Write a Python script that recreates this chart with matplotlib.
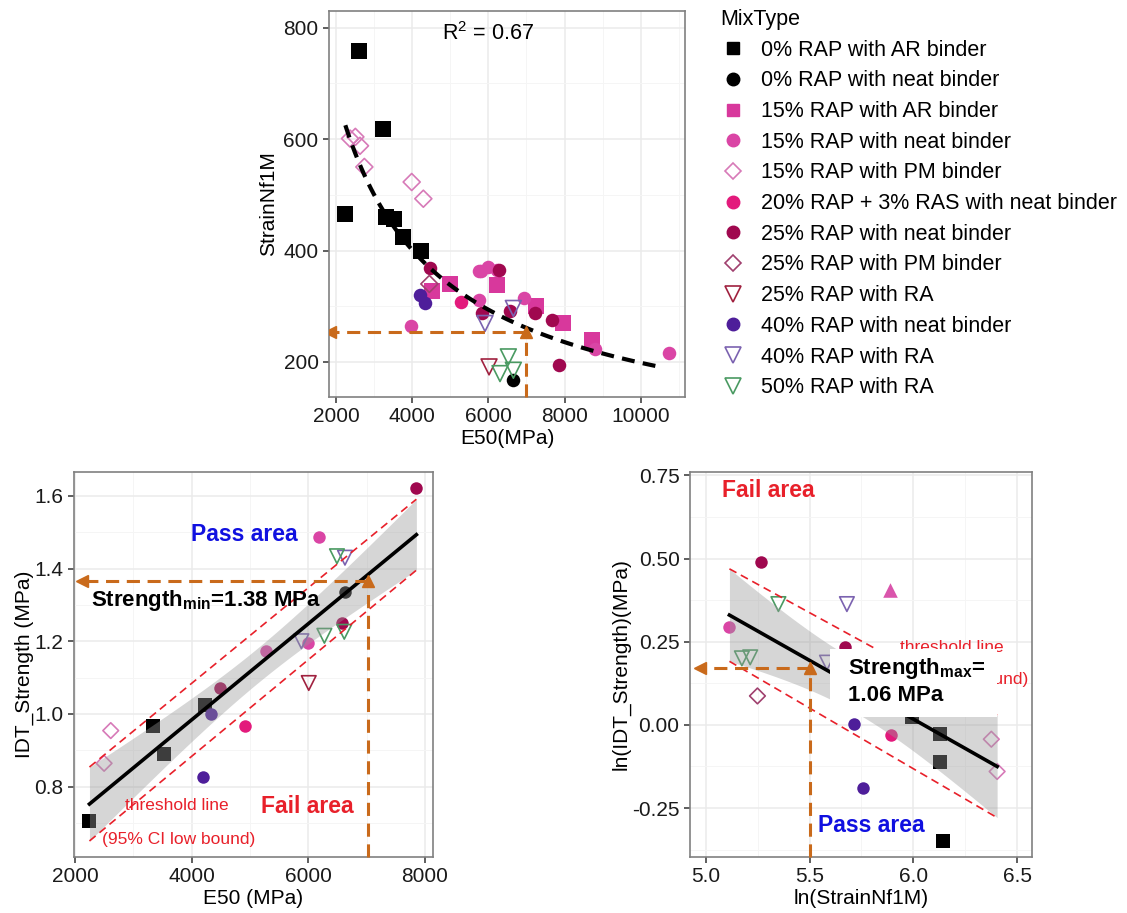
import numpy as np
import matplotlib
matplotlib.use("Agg")
import matplotlib.pyplot as plt
from matplotlib.lines import Line2D
from matplotlib.patches import Rectangle
from matplotlib.ticker import AutoMinorLocator, FormatStrFormatter

plt.rcParams['font.family'] = ['Liberation Sans', 'DejaVu Sans']
plt.rcParams['mathtext.fontset'] = 'custom'
plt.rcParams['mathtext.rm'] = 'Liberation Sans'
plt.rcParams['mathtext.bf'] = 'Liberation Sans:bold'
plt.rcParams['mathtext.it'] = 'Liberation Sans:italic'

# ---- mix types (legend order) ----
mix_types = ["0% RAP with AR binder", "0% RAP with neat binder", "15% RAP with AR binder",
             "15% RAP with neat binder", "15% RAP with PM binder", "20% RAP + 3% RAS with neat binder",
             "25% RAP with neat binder", "25% RAP with PM binder", "25% RAP with RA",
             "40% RAP with neat binder", "40% RAP with RA", "50% RAP with RA"]

# ---- top panel: E50 vs StrainNf1M ----
top_mix = [0, 0, 0, 0, 0, 0, 0,
           1,
           2, 2, 2, 2, 2, 2,
           3, 3, 3, 3, 3, 3, 3, 3, 3,
           4, 4, 4, 4, 4, 4,
           5,
           6, 6, 6, 6, 6, 6, 6,
           7, 8, 9, 9, 10, 10, 11, 11, 11]
top_e50 = [2613, 3225, 2245, 3313, 3532, 3768, 4223,
           6656,
           4512, 5000, 6219, 7243, 7952, 8731,
           3960, 5764, 6000, 6219, 5764, 6937, 8801, 10753, 5800,
           2368, 2508, 2630, 2744, 3987, 4293,
           5282,
           4468, 6289, 5842, 6569, 7226, 7663, 7864,
           4451, 6018, 4206, 4337, 5912, 6656, 6525, 6306, 6656]
top_strain = [759, 618, 465, 460, 457, 425, 400,
              168,
              327, 340, 338, 300, 270, 239,
              265, 363, 371, 365, 311, 314, 224, 216, 363,
              601, 604, 588, 550, 523, 493,
              308,
              368, 365, 288, 292, 287, 275, 195,
              340, 191, 320, 305, 269, 296, 209, 179, 185]
trend_end = 10500
e50_limit = 7000
strain_limit = 254

# ---- bottom left: E50 vs IDT strength ----
bl_mix = [0, 0, 0, 0, 1, 4, 4, 6, 6, 6, 9, 9, 5, 3, 3, 3, 10, 10, 11, 11, 11, 8]
bl_e50 = [2245, 3339, 3527, 4234, 6627, 2610, 2496, 4479, 6570, 7852, 4336, 4194,
          4906, 6177, 5989, 5276, 5880, 6627, 6490, 6274, 6615, 6006]
bl_idt = [0.706, 0.968, 0.890, 1.025, 1.336, 0.954, 0.864, 1.071, 1.249, 1.621, 1.0, 0.825,
          0.967, 1.487, 1.195, 1.172, 1.20, 1.43, 1.434, 1.215, 1.226, 1.085]
bl_e50_limit = 7014
bl_idt_limit = 1.367

# ---- bottom right: ln(strain) vs ln(IDT strength) ----
br_mix = [3, 6, 6, 11, 11, 11, 10, 10, 7, 9, 9, 5, 0, 0, 0, 0, 4, 4]
br_lnstrain = [5.114, 5.265, 5.669, 5.350, 5.174, 5.214, 5.680, 5.584, 5.249, 5.712, 5.757,
               5.892, 6.130, 6.127, 6.143, 5.994, 6.376, 6.404]
br_lnidt = [0.295, 0.49, 0.235, 0.363, 0.20, 0.203, 0.363, 0.187, 0.087, 0.003, -0.19,
            -0.03, -0.027, -0.113, -0.348, 0.025, -0.043, -0.14]
br_extra_lnstrain = [5.889]
br_extra_lnidt = [0.405]
# fitted line as printed (value at the two ends of the data range)
br_fit_ends = [0.33, -0.125]
br_strain_limit = 5.5
br_idt_limit = 0.17

t_crit = 2.1

# marker styles per mix type: (marker, colour, filled)
styles = [("s", "#000000", True), ("o", "#000000", True), ("s", "#D8389C", True),
          ("o", "#DA45A5", True), ("D", "#D77AB8", False), ("o", "#E31A7C", True),
          ("o", "#A0084F", True), ("D", "#A0406E", False), ("v", "#A0213F", False),
          ("o", "#4E1E9A", True), ("v", "#7B62B0", False), ("v", "#4A9A62", False)]
orange = "#C96A1B"
red = "#E8202A"


def draw_points(ax, mix, xs, ys, scale=1.0):
    for m, x, y in zip(mix, xs, ys):
        mk, col, filled = styles[m]
        size = {"s": 125, "o": 95, "D": 75, "v": 130}[mk] * scale
        if filled:
            ax.scatter(x, y, marker=mk, s=size, color=col, lw=0, zorder=3)
        else:
            ax.scatter(x, y, marker=mk, s=size, facecolor="none", edgecolor=col, lw=1.2, zorder=3)


def style_axes(ax):
    ax.xaxis.set_minor_locator(AutoMinorLocator(2))
    ax.yaxis.set_minor_locator(AutoMinorLocator(2))
    ax.grid(which="major", color="#EBEBEB", lw=1.1, zorder=0)
    ax.grid(which="minor", color="#F5F5F5", lw=0.7, zorder=0)
    ax.set_axisbelow(True)
    for s in ax.spines.values():
        s.set_color("#808080")
        s.set_linewidth(1.2)
    ax.tick_params(which="major", labelsize=15, length=4, width=1.1, color="#333333", labelcolor="#1A1A1A")
    ax.tick_params(which="minor", length=0)


def fit_band(ax, xs, ys, ends=None):
    x = np.array(xs)
    y = np.array(ys)
    if ends is None:
        b, a = np.polyfit(x, y, 1)
    else:
        b = (ends[1] - ends[0]) / (x.max() - x.min())
        a = ends[0] - b * x.min()
    n = len(x)
    resid = y - (a + b * x)
    s = np.sqrt(np.sum(resid ** 2) / (n - 2))
    xx = np.linspace(x.min(), x.max(), 100)
    se = s * np.sqrt(1 / n + (xx - x.mean()) ** 2 / np.sum((x - x.mean()) ** 2))
    yy = a + b * xx
    ax.fill_between(xx, yy - t_crit * se, yy + t_crit * se, color="#999999", alpha=0.4, lw=0, zorder=4)
    ax.plot(xx, yy, color="black", lw=2.6, zorder=5)
    ax.plot([xx[0], xx[-1]], [yy[0] + t_crit * se[0], yy[-1] + t_crit * se[-1]],
            color=red, lw=1.2, ls=(0, (4.8, 3)), zorder=5)
    ax.plot([xx[0], xx[-1]], [yy[0] - t_crit * se[0], yy[-1] - t_crit * se[-1]],
            color=red, lw=1.2, ls=(0, (4.8, 3)), zorder=5)


def threshold_arrows(ax, xv, yv, x_end):
    y0 = ax.get_ylim()[0]
    ax.plot([xv, x_end], [yv, yv], color=orange, lw=2.2, ls=(0, (4.3, 2.5)), zorder=6)
    ax.plot([xv, xv], [y0, yv], color=orange, lw=2.2, ls=(0, (4.3, 2.5)), zorder=6, clip_on=False)
    ax.plot(x_end, yv, marker="<", ms=9, color=orange, zorder=6)
    ax.plot(xv, yv, marker="^", ms=9, color=orange, zorder=6)


fig = plt.figure(figsize=(11.27, 9.13), dpi=100)

# ---------------- top panel ----------------
ax1 = fig.add_axes([329 / 1127, 1 - 397 / 913, 356 / 1127, 386 / 913])
ax1.set_xlim(1816, 11163)
ax1.set_ylim(137, 830)
draw_points(ax1, top_mix, top_e50, top_strain)
lx = np.log(top_e50)
ly = np.log(top_strain)
pb, pa = np.polyfit(lx, ly, 1)
xx = np.linspace(min(top_e50), trend_end, 100)
ax1.plot(xx, np.exp(pa) * xx ** pb, color="black", lw=3, ls=(0, (3.1, 2)), zorder=4)
threshold_arrows(ax1, e50_limit, strain_limit, 1850)
ax1.text(6000, 790, r"R$^2$ = 0.67", fontsize=15.5, ha="center", va="center")
ax1.set_xticks([2000, 4000, 6000, 8000, 10000])
ax1.set_yticks([200, 400, 600, 800])
style_axes(ax1)
ax1.set_xlabel("E50(MPa)", fontsize=15, labelpad=2)
ax1.set_ylabel("StrainNf1M", fontsize=15, labelpad=4)

handles = []
for mk, col, filled in styles:
    if filled:
        handles.append(Line2D([], [], ls="none", marker=mk, ms=9 if mk != "D" else 8, color=col))
    else:
        handles.append(Line2D([], [], ls="none", marker=mk, ms=11 if mk == "v" else 8,
                              markerfacecolor="none", markeredgecolor=col, mew=1.2))
leg = fig.legend(handles, mix_types, title="MixType", loc="upper left",
                 bbox_to_anchor=(720 / 1127, 1 - 9 / 913), frameon=False, fontsize=15.5,
                 title_fontsize=15.5, labelspacing=0.45, handletextpad=0.7, handlelength=1.2,
                 borderpad=0, borderaxespad=0)
leg._legend_box.align = "left"

# ---------------- bottom left ----------------
ax2 = fig.add_axes([74 / 1127, 1 - 857 / 913, 359 / 1127, 385 / 913])
ax2.set_xlim(1980, 8137)
ax2.set_ylim(0.606, 1.666)
draw_points(ax2, bl_mix, bl_e50, bl_idt, scale=0.85)
fit_band(ax2, bl_e50, bl_idt)
threshold_arrows(ax2, bl_e50_limit, bl_idt_limit, 2114)
ax2.text(4906, 1.494, "Pass area", color="#1010E0", fontsize=16.5, fontweight="bold", ha="center", va="center", zorder=7)
ax2.text(2268, 1.313, r"Strength$_{\mathbf{min}}$=1.38 MPa", fontsize=16, fontweight="bold",
         ha="left", va="center", zorder=7)
ax2.text(5989, 0.745, "Fail area", color=red, fontsize=16.5, fontweight="bold", ha="center", va="center", zorder=7)
ax2.text(2855, 0.749, "threshold line", color=red, fontsize=12.5, ha="left", va="center", zorder=7)
ax2.text(2456, 0.653, "(95% CI low bound)", color=red, fontsize=12.5, ha="left", va="center", zorder=7)
ax2.set_xticks([2000, 4000, 6000, 8000])
ax2.set_yticks([0.8, 1.0, 1.2, 1.4, 1.6])
ax2.yaxis.set_major_formatter(FormatStrFormatter("%.1f"))
style_axes(ax2)
ax2.set_xlabel("E50 (MPa)", fontsize=15, labelpad=2)
ax2.set_ylabel("IDT_Strength (MPa)", fontsize=15, labelpad=0)

# ---------------- bottom right ----------------
ax3 = fig.add_axes([690 / 1127, 1 - 857 / 913, 342 / 1127, 385 / 913])
ax3.set_xlim(4.924, 6.572)
ax3.set_ylim(-0.397, 0.76)
draw_points(ax3, br_mix, br_lnstrain, br_lnidt, scale=0.85)
ax3.scatter(br_extra_lnstrain, br_extra_lnidt, marker="^", s=110, color="#DA55AC", lw=0, zorder=3)
fit_band(ax3, br_lnstrain, br_lnidt, ends=br_fit_ends)
threshold_arrows(ax3, br_strain_limit, br_idt_limit, 4.973)
ax3.text(5.302, 0.703, "Fail area", color=red, fontsize=16.5, fontweight="bold", ha="center", va="center", zorder=7)
ax3.text(5.797, -0.303, "Pass area", color="#1010E0", fontsize=16.5, fontweight="bold", ha="center", va="center", zorder=7)
ax3.text(5.937, 0.232, "threshold line", color=red, fontsize=12.5, ha="left", va="center", zorder=6)
ax3.text(6.556, 0.135, "(95% CI low bound)", color=red, fontsize=12.5, ha="right", va="center", zorder=6)
ax3.add_patch(Rectangle((5.60, 0.024), 0.805, 0.204, facecolor="white", edgecolor="none", zorder=8))
ax3.text(5.683, 0.17, r"Strength$_{\mathbf{max}}$=", fontsize=16, fontweight="bold", ha="left", va="center", zorder=9)
ax3.text(5.683, 0.087, "1.06 MPa", fontsize=16, fontweight="bold", ha="left", va="center", zorder=9)
ax3.set_xticks([5.0, 5.5, 6.0, 6.5])
ax3.set_yticks([-0.25, 0.0, 0.25, 0.5, 0.75])
ax3.xaxis.set_major_formatter(FormatStrFormatter("%.1f"))
ax3.yaxis.set_major_formatter(FormatStrFormatter("%.2f"))
style_axes(ax3)
ax3.set_xlabel("ln(StrainNf1M)", fontsize=15, labelpad=2)
ax3.set_ylabel("ln(IDT_Strength)(MPa)", fontsize=15, labelpad=1)

fig.savefig("out.png", dpi=100)
